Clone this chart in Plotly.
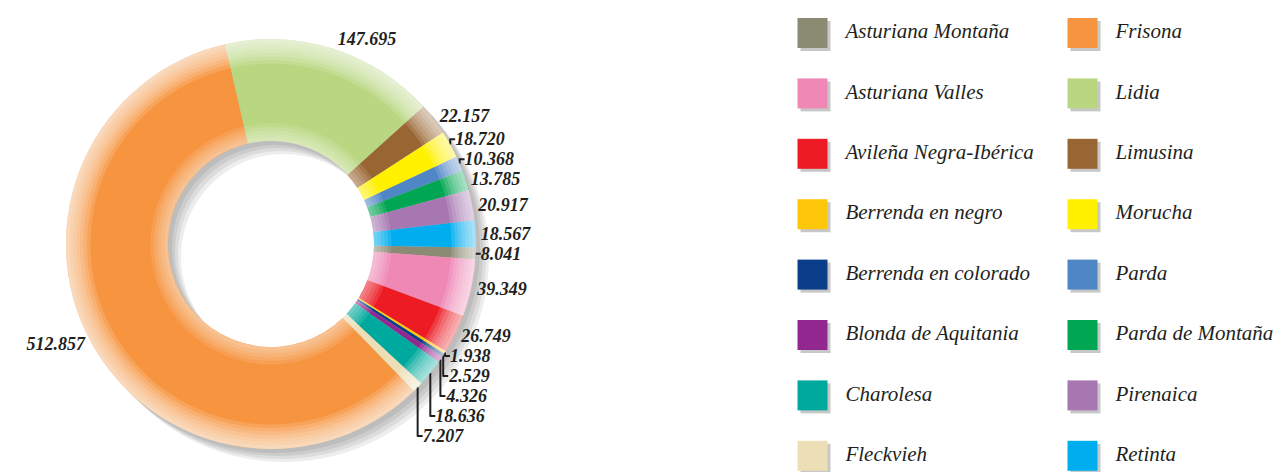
import plotly.graph_objects as go

# the page body keeps its default 8px margin, so the figure is shifted by that
OFF = 8
W, H = 1285 - OFF, 472 - OFF

breeds = [
    "Asturiana Montaña", "Asturiana Valles", "Avileña Negra-Ibérica", "Berrenda en negro",
    "Berrenda en colorado", "Blonda de Aquitania", "Charolesa", "Fleckvieh",
    "Frisona", "Lidia", "Limusina", "Morucha",
    "Parda", "Parda de Montaña", "Pirenaica", "Retinta",
]
heads = [
    8041, 39349, 26749, 1938,
    2529, 4326, 18636, 7207,
    512857, 147695, 22157, 18720,
    10368, 13785, 20917, 18567,
]
colors = [
    "#8b8a73", "#f088b6", "#ed1c24", "#ffc70a",
    "#0a3d8a", "#92278f", "#00a99d", "#ecdeb5",
    "#f7943f", "#b9d780", "#996633", "#fff100",
    "#4f86c6", "#00a651", "#a777b1", "#00aeef",
]

# donut geometry (page pixels)
CX, CY, R, R_IN = 271 - OFF, 244 - OFF, 205, 103


def domain(radius, dx=0, dy=0):
    return dict(
        x=[(CX + dx - radius) / W, (CX + dx + radius) / W],
        y=[(H - CY - dy - radius) / H, (H - CY - dy + radius) / H],
    )


def ring(radius, hole, color, dx=0, dy=0):
    return go.Pie(
        values=[1], labels=[""], domain=domain(radius, dx, dy), hole=hole,
        marker=dict(colors=[color], line=dict(width=0)),
        textinfo="none", hoverinfo="skip", showlegend=False, sort=False,
    )


fig = go.Figure()

# soft drop shadow
for off in [4, 7, 10, 13]:
    fig.add_trace(ring(R, R_IN / R, "rgba(0,0,0,0.07)", off, off))

fig.add_trace(go.Pie(
    labels=breeds, values=heads, domain=domain(R), hole=R_IN / R,
    sort=False, direction="clockwise", rotation=91,
    marker=dict(colors=colors, line=dict(width=0)),
    texttemplate="%{value:,}", textposition="outside",
    outsidetextfont=dict(family="Liberation Serif", size=18, color="#231f20",
                         weight="bold", style="italic"),
    showlegend=False,
))

# radial fade to white at outer and inner edges
for k in range(1, 8):
    fig.add_trace(ring(R, (R - 3.5 * k) / R, "rgba(255,255,255,0.14)"))
for k in range(1, 6):
    r = R_IN + 3.5 * k
    fig.add_trace(ring(r, R_IN / r, "rgba(255,255,255,0.11)"))

# legend drawn as a grid of squares
COL_W, ROW_H = 270, 60.4
cols = [i // 8 for i in range(len(breeds))]
rows = [i % 8 for i in range(len(breeds))]
fig.add_trace(go.Scatter(
    x=[c + 3 / COL_W for c in cols], y=[r + 3 / ROW_H for r in rows], mode="markers",
    marker=dict(symbol="square", size=30, color="#c8c8c8"),
    hoverinfo="skip", showlegend=False, cliponaxis=False,
))
fig.add_trace(go.Scatter(
    x=cols, y=rows, mode="markers",
    marker=dict(symbol="square", size=30, color=colors),
    hoverinfo="skip", showlegend=False, cliponaxis=False,
))
fig.add_trace(go.Scatter(
    x=[c + 0.122 for c in cols], y=rows, mode="text", text=breeds,
    textposition="middle right",
    textfont=dict(family="Liberation Serif", size=21, color="#231f20", style="italic"),
    hoverinfo="skip", showlegend=False, cliponaxis=False,
))

x0 = 812.5 - OFF
y0 = 33 - OFF
fig.update_layout(
    width=W, height=H,
    margin=dict(l=0, r=0, t=0, b=0),
    paper_bgcolor="white", plot_bgcolor="white",
    separators=",.",
    xaxis=dict(range=[-x0 / COL_W, (W - x0) / COL_W], visible=False, fixedrange=True),
    yaxis=dict(range=[(H - y0) / ROW_H, -y0 / ROW_H], visible=False, fixedrange=True),
)

fig.write_html("out.html")
